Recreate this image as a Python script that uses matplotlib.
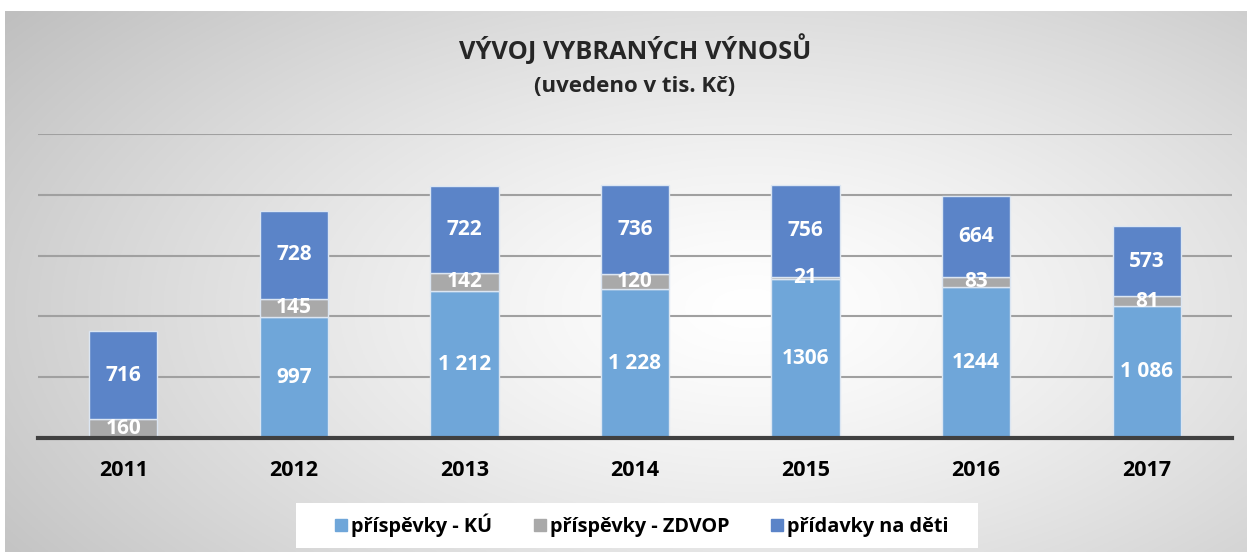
import numpy as np
import matplotlib
matplotlib.use("Agg")
import matplotlib.pyplot as plt
from matplotlib.patches import Rectangle
from matplotlib.lines import Line2D

plt.rcParams.update({"font.family": ["Open Sans", "DejaVu Sans"], "font.weight": "bold"})

roky = ["2011", "2012", "2013", "2014", "2015", "2016", "2017"]
ku = [0, 997, 1212, 1228, 1306, 1244, 1086]
zdvop = [160, 145, 142, 120, 21, 83, 81]
pridavky = [716, 728, 722, 736, 756, 664, 573]
ku_txt = ["", "997", "1 212", "1 228", "1306", "1244", "1 086"]
zdvop_txt = ["160", "145", "142", "120", "21", "83", "81"]
prid_txt = ["716", "728", "722", "736", "756", "664", "573"]
nazvy = ["příspěvky - KÚ", "příspěvky - ZDVOP", "přídavky na děti"]
barvy = ["#6fa6d9", "#a9a9a9", "#5b84c8"]

W, H = 1252, 555
fig = plt.figure(figsize=(W / 100, H / 100), dpi=100)

# pozadi - radialni prechod
bg = fig.add_axes([5 / W, 3 / H, 1242 / W, 541 / H])
yy, xx = np.mgrid[0:1:300j, 0:1:600j]
r = np.sqrt(((xx - 0.6) / 0.75) ** 2 + ((yy - 0.55) / 0.9) ** 2)
r = np.clip(r, 0, 1)
g = 1.0 - 0.25 * r ** 1.3
bg.imshow(np.dstack([g, g, g]), extent=[0, 1, 0, 1], aspect="auto", origin="upper")
bg.set_axis_off()

ax = fig.add_axes([38 / W, 117 / H, 1194 / W, 304 / H])
ax.patch.set_alpha(0)
x = np.arange(len(roky))
w = 0.4
b1 = ax.bar(x, ku, w, color=barvy[0], edgecolor="#dce6f2", linewidth=1, zorder=3)
b2 = ax.bar(x, zdvop, w, bottom=ku, color=barvy[1], edgecolor="#dce6f2", linewidth=1, zorder=3)
dno = [a + b for a, b in zip(ku, zdvop)]
b3 = ax.bar(x, pridavky, w, bottom=dno, color=barvy[2], edgecolor="#dce6f2", linewidth=1, zorder=3)

for bars, txts in ((b1, ku_txt), (b2, zdvop_txt), (b3, prid_txt)):
    for b, t in zip(bars, txts):
        if not t:
            continue
        ax.text(b.get_x() + b.get_width() / 2, b.get_y() + b.get_height() / 2, t,
                ha="center", va="center", color="white", fontsize=15, fontweight="bold", zorder=4)

ax.set_xlim(-0.5, len(roky) - 0.5)
ax.set_ylim(0, 2500)
ax.set_yticks([500, 1000, 1500, 2000, 2500])
ax.yaxis.grid(True, color="#a0a0a0", linewidth=1.5, zorder=0)
ax.tick_params(axis="y", length=0, labelleft=False)
ax.set_xticks(x)
ax.set_xticklabels(roky, fontsize=15.5, fontweight="bold", color="black")
ax.tick_params(axis="x", length=0, pad=16)
for s in ("top", "right", "left"):
    ax.spines[s].set_visible(False)
ax.spines["bottom"].set_color("#404040")
ax.spines["bottom"].set_linewidth(3)
ax.spines["bottom"].set_zorder(5)

fig.text(635 / W, 1 - 50 / H, "VÝVOJ VYBRANÝCH VÝNOSŮ", ha="center", va="center",
         fontsize=18.3, fontweight="bold", color="#262626")
fig.text(635 / W, 1 - 87 / H, "(uvedeno v tis. Kč)", ha="center", va="center",
         fontsize=16, fontweight="bold", color="#262626")

# legenda
fig.patches.append(Rectangle((296 / W, 1 - 548 / H), 682 / W, 45 / H, transform=fig.transFigure,
                             facecolor="white", edgecolor="none", zorder=1))
handles = [Line2D([], [], marker="s", linestyle="none", markersize=9, color=c) for c in barvy]
leg = fig.legend(handles, nazvy, loc="center", bbox_to_anchor=(641 / W, 1 - 525 / H), ncol=3,
                 frameon=False, handletextpad=0.1, columnspacing=2.0,
                 handlelength=0.8, prop={"weight": "bold", "size": 14.3})
leg.set_zorder(2)

fig.savefig("out.png", dpi=100)
